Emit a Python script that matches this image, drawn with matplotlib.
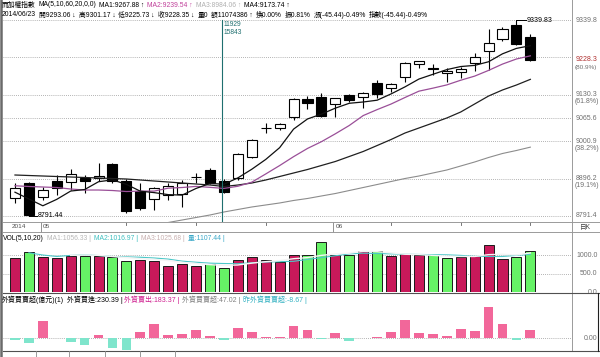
import numpy as np
import matplotlib
matplotlib.use("Agg")
import matplotlib.pyplot as plt
from matplotlib.lines import Line2D

plt.rcParams['font.family'] = ['Liberation Sans', 'Noto Sans CJK TC', 'DejaVu Sans']

W, H = 600, 357

# 加權指數 日K (最後一根 = 2014/06/23)
opens = [8841.0, 8882.9, 8845.4, 8890.2, 8885.7, 8898.6, 8896.9, 8936.9, 8890.2, 8862.2,
         8838.1, 8850.1, 8852.9, 8899.7, 8920.1, 8889.3, 8896.9, 8955.6, 9036.8, 9038.5,
         9067.6, 9118.8, 9125.2, 9104.8, 9130.0, 9123.5, 9164.4, 9148.7, 9179.5, 9215.8,
         9205.5, 9192.3, 9193.5, 9220.3, 9253.9, 9285.8, 9325.8, 9293.06]
highs = [8882.9, 8887.4, 8873.4, 8906.1, 8922.1, 8906.1, 8938.8, 8940.5, 8894.1, 8882.9,
         8873.4, 8882.9, 8892.1, 8910.9, 8924.9, 8894.1, 8967.7, 9006.0, 9050.8, 9050.8,
         9121.6, 9127.1, 9136.4, 9121.6, 9132.7, 9138.0, 9171.9, 9162.7, 9222.3, 9226.5,
         9216.7, 9204.7, 9209.1, 9248.3, 9313.8, 9319.4, 9339.83, 9301.17]
lows = [8827.0, 8791.44, 8836.2, 8850.1, 8864.1, 8856.6, 8890.2, 8882.9, 8800.6, 8808.2,
        8808.2, 8836.2, 8817.4, 8884.6, 8880.0, 8856.6, 8893.0, 8953.0, 9022.8, 9032.0,
        9060.0, 9089.9, 9069.2, 9067.6, 9111.2, 9092.7, 9120.7, 9139.2, 9167.1, 9204.7,
        9185.9, 9167.1, 9176.7, 9197.9, 9199.9, 9281.9, 9270.0, 9225.73]
closes = [8868.9, 8795.0, 8864.1, 8868.9, 8908.9, 8890.2, 8904.2, 8890.2, 8806.2, 8813.0,
          8870.6, 8876.2, 8882.9, 8899.7, 8882.9, 8859.4, 8964.9, 9004.0, 9036.8, 9048.0,
          9118.8, 9106.7, 9072.0, 9120.7, 9116.0, 9136.4, 9131.9, 9159.9, 9219.5, 9225.1,
          9202.7, 9197.9, 9202.7, 9235.4, 9276.3, 9313.8, 9273.79, 9228.35]

nan = np.nan
ma5 = [8858.0, 8839.0, 8820.0, 8838.0, 8861.2, 8865.4, 8887.3, 8892.5, 8879.9, 8860.8,
       8856.8, 8851.2, 8849.8, 8868.5, 8882.5, 8880.2, 8898.0, 8922.2, 8949.6, 8982.6,
       9034.5, 9062.9, 9076.5, 9093.2, 9106.8, 9110.4, 9115.4, 9133.0, 9152.7, 9174.6,
       9187.8, 9201.0, 9209.6, 9212.8, 9223.0, 9245.2, 9260.4, 9267.88]
ma10 = [8876.0, 8874.0, 8872.5, 8871.1, 8866.9, 8864.1, 8864.1, 8862.7, 8859.9, 8861.0,
        8861.1, 8869.3, 8871.1, 8874.2, 8871.6, 8868.5, 8874.6, 8886.0, 8909.0, 8932.5,
        8957.4, 8980.4, 8999.3, 9021.4, 9044.7, 9072.4, 9089.1, 9104.7, 9123.0, 9140.7,
        9149.1, 9158.2, 9171.3, 9182.8, 9198.8, 9216.5, 9230.7, 9239.54]
ma60 = [nan, nan, nan, nan, nan, nan, nan, nan, nan, nan,
        8766.2, 8773.2, 8780.2, 8787.2, 8794.2, 8802.6, 8809.6, 8816.6, 8822.2, 8827.8,
        8834.8, 8840.4, 8847.4, 8854.3, 8862.7, 8871.1, 8879.5, 8887.9, 8896.3, 8903.3,
        8911.7, 8920.1, 8931.3, 8942.5, 8955.1, 8966.3, 8974.7, 8984.06]
ma20 = [8906.1, 8904.7, 8903.3, 8901.9, 8900.5, 8899.1, 8897.7, 8896.3, 8894.9, 8892.1,
        8889.3, 8886.5, 8883.7, 8880.9, 8878.1, 8873.9, 8878.1, 8883.7, 8892.1, 8901.9,
        8911.7, 8921.5, 8932.7, 8943.9, 8957.9, 8971.9, 8988.6, 9005.4, 9023.6, 9037.6,
        9051.6, 9065.6, 9082.4, 9104.8, 9127.1, 9144.0, 9157.9, 9173.74]

# 成交量 (億)
volume = [911, 1089, 954, 911, 981, 981, 981, 955, 838, 865,
          838, 703, 748, 703, 748, 657, 865, 954, 865, 820,
          1000, 1000, 1360, 1000, 1000, 1108, 1117, 981, 1018, 1000,
          1000, 910, 937, 981, 1270, 892, 955, 1107.44]
vol_red = [1, 0, 1, 1, 1, 0, 1, 0, 0, 1,
           1, 1, 1, 1, 0, 0, 1, 1, 1, 1,
           1, 0, 0, 1, 0, 1, 0, 1, 1, 1,
           0, 0, 1, 1, 1, 1, 0, 0]
vol_ma5 = [nan, nan, nan, nan, 990, 1000, 990, 960, 930, 900,
           880, 850, 800, 770, 740, 720, 730, 780, 820, 850,
           900, 930, 990, 1030, 1050, 1100, 1090, 1060, 1020, 1010,
           990, 970, 960, 960, 1010, 1020, 1000, 1056.33]
vol_ma10 = [nan, 1060, 1000, 960, 990, 1005, 985, 960, 950, 940,
            920, 890, 835, 805, 780, 770, 765, 790, 810, 820,
            830, 880, 930, 980, 1030, 1050, 1040, 1030, 1020, 1015,
            1010, 1005, 990, 965, 960, 960, 990, 1016.97]

# 外資買賣超 (億)
foreign = [-9.4, -28, 98, 0.6, -19, -38, 19, -57, -66, 38,
           79, 19, 23, 47, 15, -7.5, 57, 38, 6, 6,
           70, 45, -5, 32, -13, 4, 9, 38, 102, 28,
           23, 13, 55, 42, 179, 81, -8.67, 47.02]

FS = 5.0

fig = plt.figure(figsize=(6, 3.57), dpi=100)
fig.patch.set_facecolor('white')
renderer = fig.canvas.get_renderer()


def px_rect(x0, y0, x1, y1):
    return [x0 / W, 1 - y1 / H, (x1 - x0) / W, (y1 - y0) / H]


def ftext(x, y, s, color='black', size=FS, ha='left', **kw):
    return fig.text(x / W, 1 - y / H, s, color=color, fontsize=size, ha=ha, va='center', **kw)


def fline(xs, ys, color='#909090', lw=0.7, **kw):
    fig.add_artist(Line2D([x / W for x in xs], [1 - y / H for y in ys],
                          color=color, lw=lw, **kw))


def text_run(x0, x1, y, segs, gap=3, max_size=5.0):
    # 量一次寬度, 再把字級縮放到 x0..x1 之間
    tmp = [ftext(0, y, s, size=10) for s, _ in segs]
    widths = [t.get_window_extent(renderer).width for t in tmp]
    for t in tmp:
        t.remove()
    total = sum(widths) + gap * (len(segs) - 1)
    size = min(max_size, 10 * (x1 - x0 - gap * (len(segs) - 1)) / sum(widths))
    x = x0
    for (s, col), w in zip(segs, widths):
        ftext(x, y, s, color=col, size=size)
        x += w * size / 10 + gap


n = len(closes)
idx = np.arange(n)
xlim = (-0.86, 39.99)

# ---- 主圖 ----
ax1 = fig.add_axes(px_rect(3, 2, 572, 222))
ax1.set_xlim(*xlim)
ax1.set_ylim(8774.6, 9390.2)
ax1.axis('off')

levels = [9339.8, 9235.0, 9130.3, 9065.6, 9000.9, 8896.2, 8791.4]
for lv in levels:
    ax1.axhline(lv, color='#9a9a9a', lw=0.6, ls=(0, (1, 1.5)), zorder=1)

o = np.array(opens)
c = np.array(closes)
up = c >= o
ax1.vlines(idx, lows, highs, color='black', lw=0.8, zorder=2)
bot = np.minimum(o, c)
hgt = np.maximum(np.abs(c - o), 0.8)
ax1.bar(idx[up], hgt[up], bottom=bot[up], width=0.72, color='white',
        edgecolor='black', lw=0.8, zorder=3)
ax1.bar(idx[~up], hgt[~up], bottom=bot[~up], width=0.72, color='black',
        edgecolor='black', lw=0.8, zorder=3)

ax1.plot(idx, ma60, color='#8c8c8c', lw=0.8, zorder=4)
ax1.plot(idx, ma20, color='#202020', lw=0.9, zorder=4)
ax1.plot(idx, ma10, color='#9a4f98', lw=0.9, zorder=4)
ax1.plot(idx, ma5, color='#101010', lw=0.9, zorder=4)

# 參考線 (遊標)
ax1.axvline(14.85, ymin=0, ymax=0.918, color='#1f6f6f', lw=0.8, zorder=5)
ax1.text(15.0, 9328.6, '11929', fontsize=4.8, color='#1f6f6f', va='center')
ax1.text(15.0, 9306.2, '15843', fontsize=4.8, color='#1f6f6f', va='center')

# 最高 / 最低 標示
hi_i = int(np.argmax(highs))
ax1.plot([hi_i, hi_i, hi_i + 0.7], [highs[hi_i] - 12, highs[hi_i], highs[hi_i]],
         color='black', lw=0.7, zorder=5)
ax1.text(hi_i + 0.75, highs[hi_i], '%.2f' % highs[hi_i], fontsize=FS, va='center')
lo_i = int(np.argmin(lows))
ax1.plot([lo_i, lo_i + 0.6], [lows[lo_i], lows[lo_i]], color='black', lw=0.7, zorder=5)
ax1.text(lo_i + 0.65, lows[lo_i], '%.2f' % lows[lo_i], fontsize=FS, va='center')

# 右側價格軸
tr = ax1.get_yaxis_transform()
right_lbl = [(9339.8, '9339.8', None), (9130.3, '9130.3', '(61.8%)'),
             (9065.6, '9065.6', None), (9000.9, '9000.9', '(38.2%)'),
             (8896.2, '8896.2', '(19.1%)'), (8791.4, '8791.4', None)]
for lv, s, pct in right_lbl:
    ax1.text(1.006, lv, s, transform=tr, fontsize=FS, color='#707070', va='center')
    if pct:
        ax1.text(1.004, lv - 19.5, pct, transform=tr, fontsize=FS, color='#707070', va='center')
ax1.text(1.006, closes[-1], '9228.3', transform=tr, fontsize=FS, color='#b03030', va='center')
ax1.text(1.004, 9206.0, '(80.9%)', transform=tr, fontsize=4.6, color='#707070', va='center')

# ---- 成交量 ----
ax2 = fig.add_axes(px_rect(3, 232, 572, 292))
ax2.set_xlim(*xlim)
ax2.set_ylim(0, 1622)
ax2.axis('off')
for lv in (1000, 500):
    ax2.axhline(lv, color='#9a9a9a', lw=0.6, ls=(0, (1, 1.5)), zorder=1)
vcol = ['#c8195a' if r else '#66f266' for r in vol_red]
ax2.bar(idx, volume, width=0.72, color=vcol, edgecolor='#1a1a1a', lw=0.7, zorder=2)
ax2.plot(idx, vol_ma10, color='#4cc8c8', lw=0.8, zorder=3)
ax2.plot(idx, vol_ma5, color='#f4f4f4', lw=1.0, zorder=3)
tr2 = ax2.get_yaxis_transform()
for lv, s in ((1000, '1000.0'), (500, '500.0'), (0, '0.0')):
    ax2.text(1.045, lv, s, transform=tr2, fontsize=FS, color='#707070', va='center', ha='right')

# ---- 外資買賣超 ----
ax3 = fig.add_axes(px_rect(3, 292, 572, 350))
ax3.set_xlim(*xlim)
ax3.set_ylim(-66.2, 262.1)
ax3.axis('off')
ax3.axhline(0, color='#9a9a9a', lw=0.6, ls=(0, (1, 1.5)), zorder=1)
fcol = ['#f2679a' if v >= 0 else '#7fe5cc' for v in foreign]
ax3.bar(idx, foreign, width=0.7, color=fcol, zorder=2)
ax3.text(1.045, 0, '0.00', transform=ax3.get_yaxis_transform(), fontsize=FS,
         color='#707070', va='center', ha='right')

# ---- 標題文字 ----
text_run(2, 289, 5, [('而加權指數', 'black'), ('MA(5,10,60,20,0,0)', 'black'),
                     ('MA1:9267.88 ↑', 'black'), ('MA2:9239.54 ↑', '#c0409a'),
                     ('MA3:8984.06 ↑', '#b0b0b0'), ('MA4:9173.74 ↑', 'black')])
text_run(2, 428, 15, [('2014/06/23', 'black'), ('開9293.06 ↓', 'black'), ('高9301.17 ↓', 'black'),
                      ('低9225.73 ↓', 'black'), ('收9228.35 ↓', 'black'), ('量0', 'black'),
                      ('額11074386 ↑', 'black'), ('換0.00%', 'black'), ('振0.81%', 'black'),
                      ('漲(-45.44)-0.49%', 'black'), ('指數(-45.44)-0.49%', 'black')])
text_run(3, 224, 238, [('VOL(5,10,20)', 'black'), ('MA1:1056.33 |', '#b8b8b8'),
                       ('MA2:1016.97 |', '#40c0c0'), ('MA3:1025.68 |', '#c8b0b0'),
                       ('量:1107.44 |', '#3aa8c8')])
text_run(2, 322, 300, [('外資買賣超(億元)(1)', 'black'), ('外資買進:230.39 |', 'black'),
                       ('外資賣出:183.37 |', '#d02090'), ('外資買賣超:47.02 |', '#808080'),
                       ('昨外資買賣超:-8.67 |', '#30b0c0')])

# 日期列
day_x = lambda i: 15 + 13.93 * i
ftext(12, 227, '2014', size=4.6, color='#505050')
for i in (2, 23):
    fline([day_x(i) - 2, day_x(i) - 2], [222, 232], color='#808080', lw=0.6)
ftext(day_x(2), 227, '05', size=4.6, color='#505050')
ftext(day_x(23), 227, '06', size=4.6, color='#505050')
for i in (8, 13, 18, 27, 32, 37):
    fline([day_x(i), day_x(i)], [222, 225], color='#606060', lw=0.6)
ftext(585, 227, '日K', size=4.8, color='#404040', ha='center')

# 框線
fline([1.2, 1.2], [0, 357], color='#6a6a6a', lw=1.8)
fline([572, 572], [0, 351], color='#9a9a9a', lw=0.7)
fline([3, 600], [222, 222], color='#9a9a9a', lw=0.7)
fline([3, 600], [232, 232], color='#9a9a9a', lw=0.7)
fline([3, 600], [292.5, 292.5], color='#505050', lw=0.8)
fline([3, 600], [350.5, 350.5], color='#505050', lw=0.8)
fline([598, 598], [292.5, 350.5], color='#202020', lw=0.8)
for x in (36, 69, 105, 140, 175):
    fline([x, x], [351, 357], color='#8a8a8a', lw=0.6)

fig.savefig('out.png', dpi=100, facecolor='white')
